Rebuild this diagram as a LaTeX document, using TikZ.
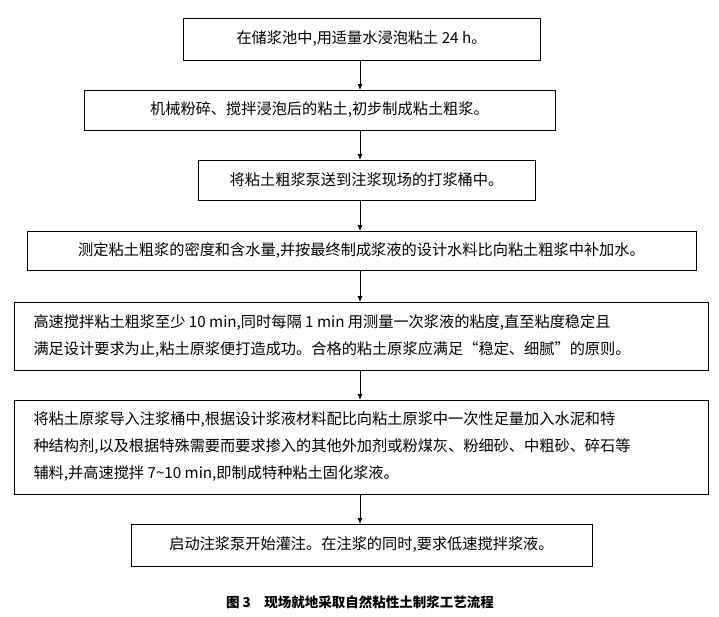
\documentclass[tikz,border=0pt]{standalone}
\usepackage{fontspec}
\setmainfont{Liberation Serif}
\newfontfamily\cjk{Noto Sans CJK SC}
\usetikzlibrary{arrows.meta}
\begin{document}
\begin{tikzpicture}[x=1pt,y=-1pt,
  stepbox/.style={draw,line width=0.9pt,inner sep=0pt},
  txt/.style={font=\cjk\fontsize{15.2}{27}\selectfont,align=left},
  arr/.style={-{Latex[length=6pt,width=5pt]},line width=0.8pt}]
\useasboundingbox (0,0) rectangle (719,616);
\draw[stepbox] (183,18) rectangle (540,60); \node[txt] (t1) at (361.5,39) {在储浆池中,用适量水浸泡粘土 24 h。};
\draw[stepbox] (84,90) rectangle (555,130); \node[txt] (t2) at (319.5,110) {机械粉碎、搅拌浸泡后的粘土,初步制成粘土粗浆。};
\draw[stepbox] (198,160) rectangle (535,200); \node[txt] (t3) at (366.5,180) {将粘土粗浆泵送到注浆现场的打浆桶中。};
\draw[stepbox] (27,231) rectangle (696,270); \node[txt] (t4) at (361.5,250.5) {测定粘土粗浆的密度和含水量,并按最终制成浆液的设计水料比向粘土粗浆中补加水。};
\draw[stepbox] (14,302) rectangle (708,370); \node[txt,anchor=west] (t5) at (30,336) {高速搅拌粘土粗浆至少 10 min,同时每隔 1 min 用测量一次浆液的粘度,直至粘度稳定且\\满足设计要求为止,粘土原浆便打造成功。合格的粘土原浆应满足“稳定、细腻”的原则。};
\draw[stepbox] (14,400) rectangle (708,494); \node[txt,anchor=west] (t6) at (30,447) {将粘土原浆导入注浆桶中,根据设计浆液材料配比向粘土原浆中一次性足量加入水泥和特\\种结构剂,以及根据特殊需要而要求掺入的其他外加剂或粉煤灰、粉细砂、中粗砂、碎石等\\辅料,并高速搅拌 7\textasciitilde 10 min,即制成特种粘土固化浆液。};
\draw[stepbox] (131,524) rectangle (592,566); \node[txt] (t7) at (361.5,545) {启动注浆泵开始灌注。在注浆的同时,要求低速搅拌浆液。};
\node[font=\cjk\bfseries\fontsize{13.5}{16}\selectfont] (cap) at (360,602) {图 3\quad 现场就地采取自然粘性土制浆工艺流程};
\coordinate (a1) at (360,60); \coordinate (b1) at (360,90);
\coordinate (a2) at (360,130); \coordinate (b2) at (360,160);
\coordinate (a3) at (360,200); \coordinate (b3) at (360,231);
\coordinate (a4) at (360,270); \coordinate (b4) at (360,302);
\coordinate (a5) at (360,370); \coordinate (b5) at (360,400);
\coordinate (a6) at (360,494); \coordinate (b6) at (360,524);
\foreach \i in {1,...,6} \draw[arr] (a\i) -- (b\i);
\end{tikzpicture}
\end{document}
